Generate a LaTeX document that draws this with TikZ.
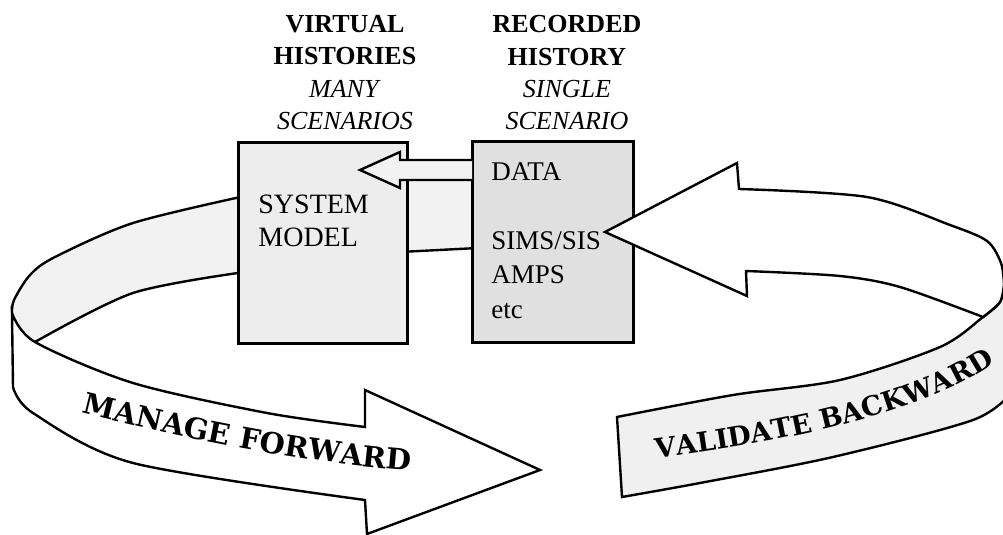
\documentclass[tikz,border=0pt]{standalone}
\usepackage{fontspec}
\setmainfont{Liberation Serif}
\newfontfamily\ribbonfont{DejaVu Serif}
\usetikzlibrary{decorations.text}

\tikzset{
  ribbon/.style={line width=1.2pt, line join=miter},
  histbox/.style={draw, line width=1.5pt, inner sep=0pt},
  headtext/.style={align=center, inner sep=0pt, anchor=north, font=\fontsize{13}{16.2}\selectfont},
  boxtext/.style={align=left, inner sep=0pt, anchor=north west},
}

\begin{document}
\begin{tikzpicture}[x=0.5pt, y=-0.5pt]
  \useasboundingbox (0,0) rectangle (1003,535);
  \clip (0,0) rectangle (1003,535);
  % back of the ring, left
  \fill[gray!10] plot[smooth] coordinates {(245,196) (133,223) (55,257) (30,275) (14,300) (12,313)} -- (20,335)
    -- plot[smooth] coordinates {(35,342) (133,293) (245,272)} -- cycle;
  \draw[ribbon] plot[smooth] coordinates {(245,196) (133,223) (55,257) (30,275) (14,300) (12,313)};
  \draw[ribbon] plot[smooth] coordinates {(245,272) (133,293) (35,342)};
  % back of the ring between the boxes
  \fill[gray!10] (400,172) -- (478,172) -- (478,248) -- (400,252) -- cycle;
  \draw[ribbon] (400,252) -- (478,248);
  % the two histories
  \node[histbox, fill=gray!14, minimum width=84.5pt, minimum height=100.5pt] (model) at (322.5,243.5) {};
  \node[histbox, fill=gray!24, minimum width=80.5pt, minimum height=100.5pt] (record) at (552.5,242.5) {};
  % data into the model
  \filldraw[ribbon, fill=gray!10] (472,160) -- (400,160) -- (400,152) -- (360,170) -- (400,188) -- (400,180) -- (472,180);
  % manage forward
  \filldraw[ribbon, fill=white] plot[smooth] coordinates {(12,313) (35,342) (133,383) (267,413) (365,427)}
    -- (365,390) -- (540,470) -- (367,534) -- (365,500)
    -- plot[smooth] coordinates {(365,500) (133,463) (33,413) (13,387)} -- cycle;
  % validate backward
  \filldraw[ribbon, fill=gray!12] plot[smooth] coordinates {(1004,284) (1000,302) (983,317) (940,347) (840,380) (733,395) (617,417)}
    -- (622,497) -- plot[smooth] coordinates {(622,497) (700,483) (833,457) (973,420) (1012,392)} -- (1012,284) -- cycle;
  \filldraw[ribbon, fill=white] (605,232) -- (737,163) -- (739,189)
    -- plot[smooth] coordinates {(739,189) (867,197) (950,225) (987,241) (1001,263) (1004,284)}
    -- plot[smooth] coordinates {(1004,284) (1000,302) (983,317)}
    -- plot[smooth] coordinates {(983,317) (900,287) (840,276) (746,271)} -- (747,296) -- cycle;
  % labels
  \node[headtext] (virtual) at (345,15) {\textbf{VIRTUAL}\\\textbf{HISTORIES}\\\textit{MANY}\\\textit{SCENARIOS}};
  \node[headtext] (recorded) at (567,15) {\textbf{RECORDED}\\\textbf{HISTORY}\\\textit{SINGLE}\\\textit{SCENARIO}};
  \node[boxtext, font=\fontsize{14}{16.5}\selectfont] (modeltext) at (258,195) {SYSTEM\\MODEL};
  \node[boxtext, font=\fontsize{13.5}{17.25}\selectfont] (datatext) at (491,162) {DATA\\[17.25pt]SIMS/SIS\\AMPS\\etc};
  \path[decorate, decoration={text along path, text align=center,
    text={|\ribbonfont\fontsize{14.5}{17}\selectfont\bfseries|MANAGE FORWARD}}]
    (80,412) .. controls (190,440) and (300,462) .. (412,471);
  \path[decorate, decoration={text along path, text align=center,
    text={|\ribbonfont\fontsize{13.5}{16}\selectfont\bfseries|VALIDATE BACKWARD}}]
    (658,458) .. controls (780,442) and (910,418) .. (994,364);
\end{tikzpicture}
\end{document}
